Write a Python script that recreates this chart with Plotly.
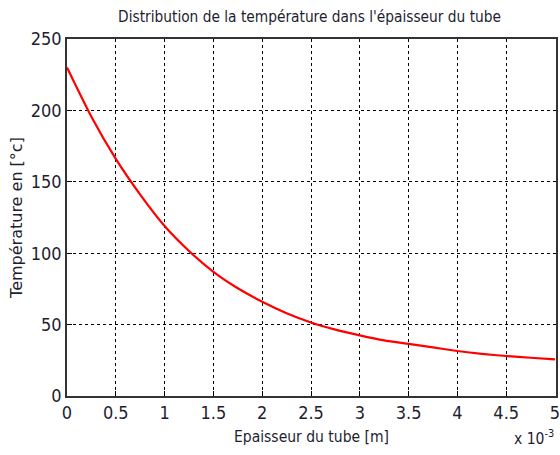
import plotly.graph_objects as go

# Data (thickness in metres, temperature in °C)
epaisseur_m = [0.0, 0.00025, 0.0005, 0.00075, 0.001, 0.00125, 0.0015, 0.00175,
               0.002, 0.00225, 0.0025, 0.00275, 0.003, 0.00325, 0.0035, 0.00375,
               0.004, 0.00425, 0.0045, 0.00475, 0.005]
temperature_c = [230.0, 195.5, 166.0, 141.0, 119.0, 101.5, 87.0, 75.5,
                 66.0, 58.0, 51.5, 46.5, 42.5, 39.0, 36.5, 34.0,
                 31.5, 29.5, 28.0, 26.8, 25.7]

x_tick_vals = [0.0, 0.0005, 0.001, 0.0015, 0.002, 0.0025, 0.003, 0.0035, 0.004, 0.0045, 0.005]
x_tick_text = ["0", "0.5", "1", "1.5", "2", "2.5", "3", "3.5", "4", "4.5", "5"]
y_tick_vals = [0, 50, 100, 150, 200, 250]

title_text = "Distribution de la température dans l'épaisseur du tube"
x_title = "Epaisseur du tube [m]"
y_title = "Température en [°c]"
exponent_label = "x 10<sup>-3</sup>"

NARROW = "Liberation Sans Narrow, Arial Narrow, DejaVu Sans Condensed, sans-serif"
TXT = "#1e1e30"

fig = go.Figure()
fig.add_trace(go.Scatter(
    x=epaisseur_m, y=temperature_c, mode="lines",
    line=dict(color="#ff0000", width=2.2, shape="spline", smoothing=0.6),
    showlegend=False, hoverinfo="skip",
))

axis_common = dict(
    showline=True, linecolor="#333333", linewidth=1.5, mirror=True,
    showgrid=True, gridcolor="#000000", gridwidth=1, griddash="3px,3px",
    ticks="inside", ticklen=5, tickcolor="#000000", tickwidth=1,
    zeroline=False, ticklabeloverflow="allow",
    tickfont=dict(family=NARROW, size=18, color=TXT),
)

fig.update_xaxes(
    range=[0, 0.00501], tickvals=x_tick_vals, ticktext=x_tick_text,
    title=dict(text=x_title, font=dict(family=NARROW, size=15.5, color=TXT), standoff=9),
    **axis_common,
)
fig.update_yaxes(
    range=[0, 250], tickvals=y_tick_vals,
    title=dict(text=y_title, font=dict(family="DejaVu Sans", size=16, color=TXT), standoff=4),
    **axis_common,
)

fig.add_annotation(
    text=exponent_label, xref="paper", yref="paper", x=1.0, y=-0.115,
    xanchor="right", yanchor="middle", showarrow=False,
    font=dict(family=NARROW, size=15.5, color=TXT),
)

fig.update_layout(
    width=560, height=455,
    margin=dict(l=67, r=0, t=39, b=59),
    paper_bgcolor="white", plot_bgcolor="white",
    title=dict(text=title_text, x=0.496, xref="paper", xanchor="center",
               y=1 - 17 / 455, yref="container", yanchor="middle",
               font=dict(family=NARROW, size=15.3, color=TXT)),
)

fig.write_html("out.html")
